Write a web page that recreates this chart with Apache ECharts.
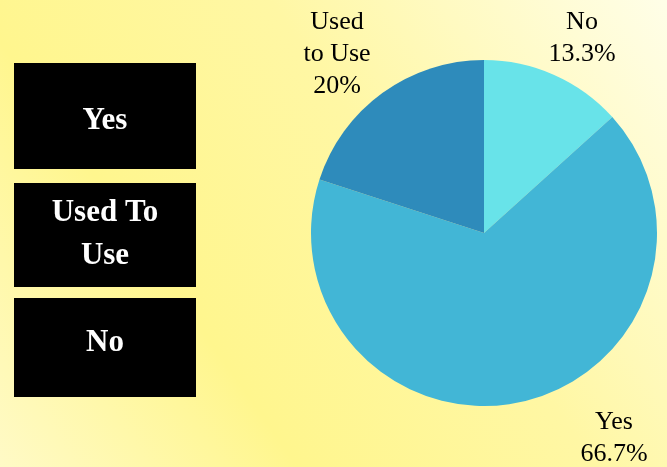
<!DOCTYPE html>
<html>
<head>
<meta charset="utf-8">
<script src="https://cdn.jsdelivr.net/npm/echarts@6/dist/echarts.min.js"></script>
<style>
html,body{margin:0;padding:0;}
#c{width:667px;height:467px;}
</style>
</head>
<body>
<div id="c"></div>
<script>
var categories = ['No', 'Yes', 'Used to Use'];
var values = [13.3, 66.7, 20];
var labelNames = ['No', 'Yes', 'Used\nto Use'];
var boxLabels = ['Yes', 'Used To\nUse', 'No'];
var colors = ['#68E3E9', '#42B6D6', '#2E8BBB'];

var labelPos = [[582, 38], [614, 438], [337, 54]];
var boxTops = [63, 183, 298];
var boxHeights = [106, 104, 99];
var boxTextY = [121, 234, 343];

var chart = echarts.init(document.getElementById('c'));
var graphics = boxLabels.map(function (t, i) {
  return {
    type: 'group',
    children: [
      {type: 'rect', shape: {x: 14, y: boxTops[i], width: 182, height: boxHeights[i]}, style: {fill: '#000'}},
      {type: 'text', x: 105, y: boxTextY[i],
        style: {text: t, fill: '#fff', font: 'bold 31px "Liberation Serif", "Times New Roman", serif',
          align: 'center', verticalAlign: 'middle', lineHeight: 43}}
    ]
  };
});

chart.setOption({
  backgroundColor: {
    type: 'linear', x: 0, y: 1, x2: 1, y2: 0,
    colorStops: [
      {offset: 0, color: '#FFFAC6'},
      {offset: 0.3, color: '#FFF68E'},
      {offset: 0.6, color: '#FFF7A4'},
      {offset: 1, color: '#FFFEE8'}
    ]
  },
  graphic: graphics,
  series: [{
    type: 'pie',
    center: [484, 233],
    radius: 173,
    startAngle: 90,
    clockwise: true,
    animation: false,
    data: categories.map(function (c, i) {
      return {name: c, value: values[i], itemStyle: {color: colors[i]}};
    }),
    label: {
      show: true,
      position: 'outside',
      formatter: function (p) { return labelNames[p.dataIndex] + '\n' + p.value + '%'; },
      fontFamily: '"Liberation Serif", "Times New Roman", serif',
      fontSize: 26,
      lineHeight: 32,
      color: '#000',
      align: 'center',
      overflow: 'none',
      width: 200
    },
    labelLine: {show: false},
    labelLayout: function (p) {
      var pos = labelPos[p.dataIndex];
      return {x: pos[0], y: pos[1], align: 'center', verticalAlign: 'middle'};
    },
    emphasis: {disabled: true}
  }]
});
</script>
</body>
</html>
